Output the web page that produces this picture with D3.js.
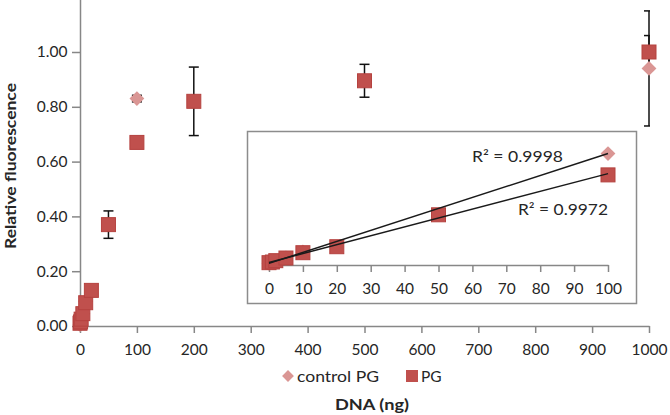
<!DOCTYPE html>
<html><head><meta charset="utf-8">
<script src="https://cdn.jsdelivr.net/npm/d3@7/dist/d3.min.js"></script>
<style>
body{margin:0;background:#fff;}
text{font-family:Lato,"Open Sans",sans-serif;fill:#262626;}
</style></head>
<body><svg id="c" width="670" height="415"></svg>
<script>
// ---- data ----
const pgX      = [0, 1, 2, 5, 10, 20, 50, 100, 200, 500, 1000];
const pgY      = [0.01, 0.015, 0.025, 0.045, 0.085, 0.13, 0.37, 0.67, 0.82, 0.895, 1.00];
const pgErr    = [0, 0, 0, 0, 0, 0, 0.05, 0, 0.125, 0.06, 0.06];
const ctrlX    = [0, 1, 2, 5, 10, 100, 1000];
const ctrlY    = [0.005, 0.012, 0.02, 0.045, 0.09, 0.83, 0.94];
const ctrlErr  = [0, 0, 0, 0, 0, 0.012, 0.21];
const xTicks   = [0,100,200,300,400,500,600,700,800,900,1000];
const yTicks   = [0,0.2,0.4,0.6,0.8,1.0];
const insetTicks = [0,10,20,30,40,50,60,70,80,90,100];
const r2Labels = ["R\u00B2 = 0.9998", "R\u00B2 = 0.9972"];
const legendLabels = ["control PG", "PG"];
const xTitle = "DNA (ng)", yTitle = "Relative fluorescence";

const svg = d3.select("#c");
const sqCol = "#C0504D", sqStroke = "#B5423F", diaCol = "#DA9694";
const axCol = "#878787";
const fs = "15.5px";

// main scales
const x = d3.scaleLinear().domain([0,1000]).range([80,649]);
const y = d3.scaleLinear().domain([0,1.2]).range([326,-2.8]);

svg.append("defs").append("clipPath").attr("id","pc")
  .append("rect").attr("x",60).attr("y",0).attr("width",590).attr("height",340);

// axes
const xa = svg.append("g").attr("transform","translate(0,326)")
  .call(d3.axisBottom(x).tickValues(xTicks).tickSize(7).tickSizeOuter(0).tickFormat(d3.format("d")));
const ya = svg.append("g").attr("transform","translate(80,0)")
  .call(d3.axisLeft(y).tickValues(yTicks).tickSize(8).tickSizeOuter(0).tickFormat(d3.format(".2f")));
[xa,ya].forEach(g=>{
  g.selectAll("path,line").attr("stroke",axCol).attr("stroke-width",1.5);
  g.selectAll("text").style("font-size",fs).attr("fill","#262626");
});
xa.selectAll("text").attr("dy","1.25em");
ya.selectAll("text").attr("dx","-0.1em");

// titles
svg.append("text").attr("x",372).attr("y",410).attr("text-anchor","middle")
  .style("font-size","16px").style("font-weight","bold")
  .attr("textLength",74).attr("lengthAdjust","spacingAndGlyphs").text(xTitle);
svg.append("text").attr("transform","translate(16,166) rotate(-90)").attr("text-anchor","middle")
  .style("font-size","16px").style("font-weight","bold")
  .attr("textLength",166).attr("lengthAdjust","spacingAndGlyphs").text(yTitle);

const errG = svg.append("g").attr("clip-path","url(#pc)");
const plot = svg.append("g");

function errBars(g, xs, ys, es, sx, sy){
  xs.forEach((xv,i)=>{
    if(!es[i]) return;
    const cx = sx(xv), lo = sy(ys[i]-es[i]), hi = sy(ys[i]+es[i]);
    g.append("line").attr("x1",cx).attr("x2",cx).attr("y1",lo).attr("y2",hi).attr("stroke","#111").attr("stroke-width",1.5);
    [lo,hi].forEach(v=>g.append("line").attr("x1",cx-5).attr("x2",cx+5).attr("y1",v).attr("y2",v).attr("stroke","#111").attr("stroke-width",1.5));
  });
}
errBars(errG, ctrlX, ctrlY, ctrlErr, x, y);
errBars(errG, pgX, pgY, pgErr, x, y);

function diamonds(g, xs, ys, sx, sy, size){
  g.selectAll(null).data(xs.map((v,i)=>[v,ys[i]])).join("path")
    .attr("d", d3.symbol().type(d3.symbolSquare).size(size))
    .attr("transform", d=>`translate(${sx(d[0])},${sy(d[1])}) rotate(45)`)
    .attr("fill",diaCol);
}
function squares(g, xs, ys, sx, sy, s){
  g.selectAll(null).data(xs.map((v,i)=>[v,ys[i]])).join("rect")
    .attr("x", d=>sx(d[0])-s/2).attr("y", d=>sy(d[1])-s/2)
    .attr("width",s).attr("height",s)
    .attr("fill",sqCol).attr("stroke",sqStroke).attr("stroke-width",1);
}
diamonds(plot, ctrlX, ctrlY, x, y, 110);
squares(plot, pgX, pgY, x, y, 14);

// ---- inset ----
svg.append("rect").attr("x",247.5).attr("y",131.5).attr("width",389).attr("height",172)
  .attr("fill","#fff").attr("stroke","#8c8c8c").attr("stroke-width",1.5);
const ix = d3.scaleLinear().domain([0,100]).range([269,608]);
const iy = d3.scaleLinear().domain([0,1]).range([264,131]);
const ia = svg.append("g").attr("transform","translate(0,265)")
  .call(d3.axisBottom(ix).tickValues(insetTicks).tickSize(7).tickSizeOuter(0).tickFormat(d3.format("d")));
ia.selectAll("path,line").attr("stroke",axCol).attr("stroke-width",1.5);
ia.selectAll("text").style("font-size",fs).attr("fill","#262626").attr("dy","1.25em");

const ins = svg.append("g");
const sel = (xs,ys)=>{const a=[],b=[];xs.forEach((v,i)=>{if(v<=100){a.push(v);b.push(ys[i]);}});return [a,b];};
const [cX,cY] = sel(ctrlX,ctrlY), [pX,pY] = sel(pgX,pgY);
diamonds(ins, cX, cY, ix, iy, 110);
squares(ins, pX, pY, ix, iy, 14);

function fit(xs,ys){
  const mx=d3.mean(xs), my=d3.mean(ys);
  const sxy=d3.sum(xs.map((v,i)=>(v-mx)*(ys[i]-my))), sxx=d3.sum(xs.map(v=>(v-mx)*(v-mx)));
  const b=sxy/sxx; return [my-b*mx,b];
}
[[cX,cY],[pX,pY]].forEach(([xs,ys])=>{
  const [a,b]=fit(xs,ys);
  const x0=d3.min(xs), x1=d3.max(xs);
  ins.append("line").attr("x1",ix(x0)).attr("y1",iy(a+b*x0)).attr("x2",ix(x1)).attr("y2",iy(a+b*x1))
    .attr("stroke","#1a1a1a").attr("stroke-width",1.5);
});
ins.append("text").attr("x",472).attr("y",162).style("font-size",fs)
  .attr("textLength",91).attr("lengthAdjust","spacingAndGlyphs").text(r2Labels[0]);
ins.append("text").attr("x",518).attr("y",215).style("font-size",fs)
  .attr("textLength",90).attr("lengthAdjust","spacingAndGlyphs").text(r2Labels[1]);

// ---- legend ----
const lg = svg.append("g");
lg.append("path").attr("d",d3.symbol().type(d3.symbolSquare).size(70)())
  .attr("transform","translate(288,376) rotate(45)").attr("fill",diaCol);
lg.append("text").attr("x",297).attr("y",381.5).style("font-size",fs)
  .attr("textLength",82).attr("lengthAdjust","spacingAndGlyphs").text(legendLabels[0]);
lg.append("rect").attr("x",406).attr("y",370).attr("width",12).attr("height",12).attr("fill",sqCol);
lg.append("text").attr("x",421).attr("y",381.5).style("font-size",fs).text(legendLabels[1]);
</script></body></html>
